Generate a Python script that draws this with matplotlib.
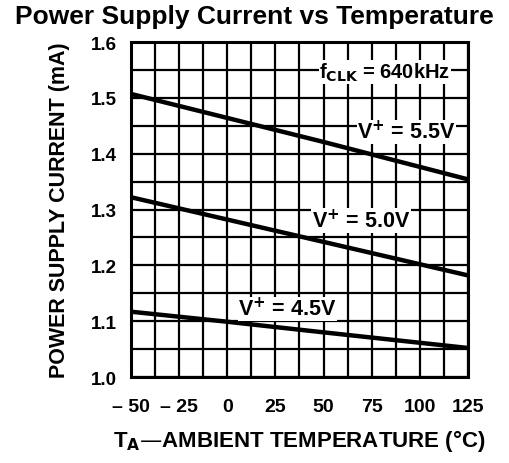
import matplotlib
matplotlib.use("Agg")
import matplotlib.pyplot as plt
from matplotlib.ticker import MultipleLocator

plt.rcParams['font.family'] = ['Liberation Sans', 'DejaVu Sans']
plt.rcParams['font.weight'] = 'bold'
plt.rcParams['mathtext.default'] = 'bf'

# temperature (deg C) and supply current (mA)
temp = [-50, 0, 50, 125]
i_55 = [1.507, 1.464, 1.421, 1.354]
i_50 = [1.322, 1.282, 1.242, 1.182]
i_45 = [1.117, 1.099, 1.080, 1.052]

xticks = [-50, -25, 0, 25, 50, 75, 100, 125]
xlabels = ['\u2013 50', '\u2013 25', '0', '25', '50', '75', '100', '125']
yticks = [1.0, 1.1, 1.2, 1.3, 1.4, 1.5, 1.6]

fig = plt.figure(figsize=(5.09, 4.64), dpi=100)
ax = fig.add_axes([0.2574, 0.1853, 0.6620, 0.7220])

for y in (i_55, i_50, i_45):
    ax.plot(temp, y, color='black', lw=3.2, solid_capstyle='butt', zorder=3)

ax.set_xlim(-50, 125)
ax.set_ylim(1.0, 1.6)
ax.set_xticks(xticks)
ax.set_xticklabels(xlabels)
ax.set_yticks(yticks)
ax.set_yticklabels([f'{v:.1f}' for v in yticks])
ax.xaxis.set_minor_locator(MultipleLocator(12.5))
ax.yaxis.set_minor_locator(MultipleLocator(0.05))
ax.grid(True, which='both', color='black', lw=1.6, zorder=1)
ax.tick_params(which='both', length=0)
ax.tick_params(axis='x', labelsize=14, pad=15)
ax.tick_params(axis='y', labelsize=13.5, pad=10)
for s in ax.spines.values():
    s.set_linewidth(2.2)
ax.set_axisbelow(True)

box = dict(facecolor='white', edgecolor='none', pad=0.5)
ax.text(81.8, 1.546, r'f$_{\mathbf{CLK}}$ = 640kHz', fontsize=14.5, ha='center', va='center',
        bbox=box, zorder=4)
ax.text(93, 1.439, r'V$^{\mathbf{+}}$ = 5.5V', fontsize=15.5, ha='center', va='center',
        bbox=box, zorder=4)
ax.text(69.3, 1.28, r'V$^{\mathbf{+}}$ = 5.0V', fontsize=15.5, ha='center', va='center',
        bbox=box, zorder=4)
ax.text(31.3, 1.122, r'V$^{\mathbf{+}}$ = 4.5V', fontsize=15.5, ha='center', va='center',
        bbox=box, zorder=4)

ax.set_xlabel('T$_{\\mathbf{A}}$\u2014AMBIENT TEMPERATURE (\u00b0C)',
              fontsize=16, fontweight='bold', labelpad=9)
ax.set_ylabel('POWER SUPPLY CURRENT (mA)', fontsize=15.5, fontweight='bold', labelpad=15)
fig.suptitle('Power Supply Current vs Temperature', fontsize=19, fontweight='bold', y=0.99)

fig.savefig('out.png', dpi=100)
